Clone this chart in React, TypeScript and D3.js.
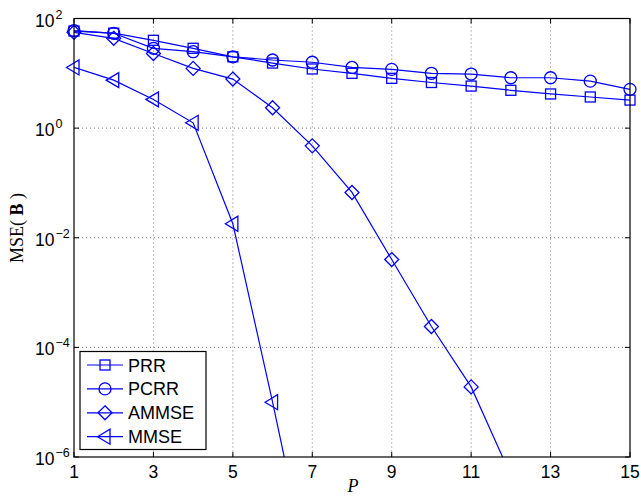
import React from "react";
import * as d3 from "d3";

const P = [1, 2, 3, 4, 5, 6, 7, 8, 9, 10, 11, 12, 13, 14, 15];
const PRR = [59, 54, 40, 28.6, 20, 15.4, 12, 10, 8.1, 6.8, 5.85, 4.9, 4.2, 3.7, 3.25];
const PCRR = [60, 53.7, 28.6, 24.8, 20, 17.5, 15.9, 12.8, 11.8, 10, 9.7, 8.3, 8.3, 7.2, 5.1];
const AMMSE = [56, 43.5, 23, 12.3, 7.85, 2.35, 0.475, 0.067, 0.004, 2.4e-4, 1.9e-5, 4.6e-7];
const MMSE = [12.8, 7.5, 3.34, 1.25, 0.018, 1.0e-5, 4e-9];
const xTicks = [1, 3, 5, 7, 9, 11, 13, 15];
const yTickExps = [2, 0, -2, -4, -6];
const seriesNames = ["PRR", "PCRR", "AMMSE", "MMSE"];
const seriesData = [PRR, PCRR, AMMSE, MMSE];
const markers = ["square", "circle", "diamond", "triangle"];

const W = 641, H = 497;
const L = 74, R = 630, T = 18.5, B = 457;
const BLUE = "#0000ff";

function Marker({ kind, x, y }: { kind: string; x: number; y: number }) {
  const common = { fill: "none", stroke: BLUE, strokeWidth: 1.3 };
  if (kind === "square") return <rect x={x - 5} y={y - 5} width={10} height={10} {...common} />;
  if (kind === "circle") return <circle cx={x} cy={y} r={6} {...common} />;
  if (kind === "diamond")
    return <path d={`M${x},${y - 7}L${x + 7},${y}L${x},${y + 7}L${x - 7},${y}Z`} {...common} />;
  return <path d={`M${x - 7.5},${y}L${x + 5},${y - 7.5}L${x + 5},${y + 7.5}Z`} {...common} />;
}

export default function App() {
  const x = d3.scaleLinear().domain([1, 15]).range([L, R]);
  const y = d3.scaleLog().domain([1e-6, 1e2]).range([B, T]);
  const line = d3
    .line<number>()
    .x((_, i) => x(P[i]))
    .y((d) => y(d));

  const tickFont = "'Liberation Sans', Arial, sans-serif";
  const legX = 80, legY = 351.5, legW = 126, legH = 98;

  return (
    <svg width={W} height={H} style={{ position: "absolute", left: 0, top: 0, background: "#fff" }}>
      <defs>
        <clipPath id="plotclip">
          <rect x={L} y={T} width={R - L} height={B - T} />
        </clipPath>
      </defs>
      <rect x={0} y={0} width={W} height={H} fill="#fff" />
      {/* grid */}
      {xTicks.filter((t) => t !== 1 && t !== 15).map((t) => (
        <line key={"gx" + t} x1={x(t)} x2={x(t)} y1={T} y2={B} stroke="#777" strokeWidth={1} strokeDasharray="1,3" />
      ))}
      {yTickExps.filter((e) => e !== 2 && e !== -6).map((e) => (
        <line key={"gy" + e} x1={L} x2={R} y1={y(Math.pow(10, e))} y2={y(Math.pow(10, e))} stroke="#777" strokeWidth={1} strokeDasharray="1,3" />
      ))}
      {/* ticks */}
      {xTicks.map((t) => (
        <g key={"tx" + t}>
          <line x1={x(t)} x2={x(t)} y1={B} y2={B - 5} stroke="#000" />
          <line x1={x(t)} x2={x(t)} y1={T} y2={T + 5} stroke="#000" />
          <text x={x(t)} y={478} textAnchor="middle" fontFamily={tickFont} fontSize={17.5}>
            {t}
          </text>
        </g>
      ))}
      {yTickExps.map((e) => {
        const yy = y(Math.pow(10, e));
        return (
          <g key={"ty" + e}>
            <line x1={L} x2={L + 5} y1={yy} y2={yy} stroke="#000" />
            <line x1={R} x2={R - 5} y1={yy} y2={yy} stroke="#000" />
            <text x={54.5} y={yy + 8} textAnchor="end" fontFamily={tickFont} fontSize={17.5}>
              10
            </text>
            <text x={55.5} y={yy} textAnchor="start" fontFamily={tickFont} fontSize={12.5}>
              {e < 0 ? "\u2212" + Math.abs(e) : String(e)}
            </text>
          </g>
        );
      })}
      {/* series lines */}
      <g clipPath="url(#plotclip)">
        {seriesData.map((d, i) => (
          <path key={"l" + i} d={line(d) || ""} fill="none" stroke={BLUE} strokeWidth={1.2} />
        ))}
      </g>
      {/* markers */}
      {seriesData.map((d, i) =>
        d.map((v, j) =>
          v >= 1e-6 ? <Marker key={"m" + i + "_" + j} kind={markers[i]} x={x(P[j])} y={y(v)} /> : null
        )
      )}
      {/* frame */}
      <rect x={L} y={T} width={R - L} height={B - T} fill="none" stroke="#000" strokeWidth={1.2} />
      {/* legend */}
      <rect x={legX} y={legY} width={legW} height={legH} fill="#fff" stroke="#000" strokeWidth={1.2} />
      {seriesNames.map((n, i) => {
        const ly = 365 + i * 23.9;
        return (
          <g key={"lg" + i}>
            <line x1={87} x2={123} y1={ly} y2={ly} stroke={BLUE} strokeWidth={1.2} />
            <Marker kind={markers[i]} x={105} y={ly} />
            <text x={128} y={ly + 6.5} fontFamily={tickFont} fontSize={18}>
              {n}
            </text>
          </g>
        );
      })}
      {/* axis labels */}
      <text x={353} y={492} textAnchor="middle" fontFamily="'Liberation Serif', serif" fontStyle="italic" fontSize={18}>
        P
      </text>
      <text
        transform={`translate(22.5,228) rotate(-90)`}
        textAnchor="middle"
        fontFamily="'Liberation Serif', serif"
        fontSize={18}
        xmlSpace="preserve"
      >
        {"MSE( "}
        <tspan fontWeight="bold">B</tspan>
        {" )"}
      </text>
    </svg>
  );
}
